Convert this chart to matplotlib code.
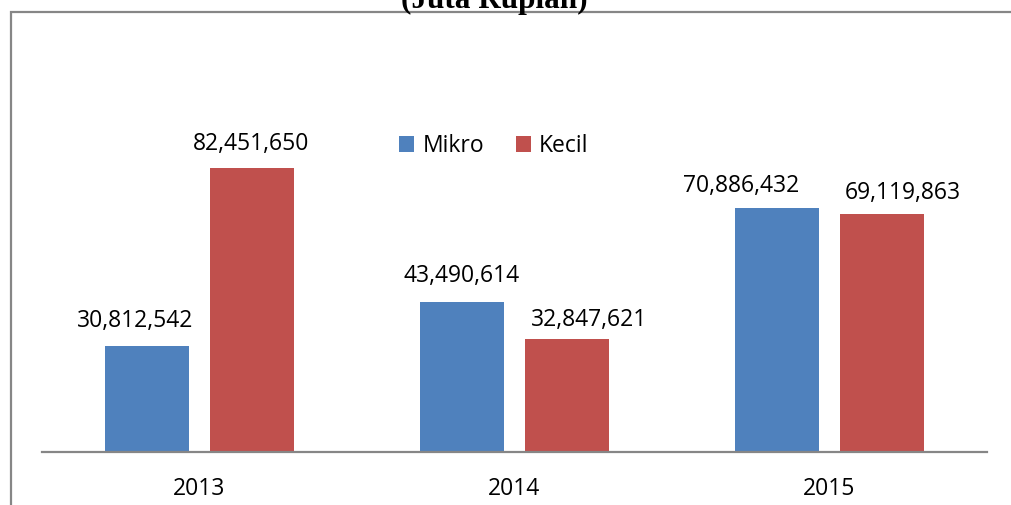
import numpy as np
import matplotlib
matplotlib.use("Agg")
import matplotlib.pyplot as plt
from matplotlib.patches import Rectangle

years = ["2013", "2014", "2015"]
mikro = [30812542, 43490614, 70886432]
kecil = [82451650, 32847621, 69119863]
series_names = ["Mikro", "Kecil"]

# label nudges in pixels (dx, gap above bar), like the original's placement
mikro_nudge = [(-12, 19), (0, 20), (-36, 16)]
kecil_nudge = [(-1, 18), (22, 13), (21, 15)]

blue = "#4F81BD"
red = "#C0504D"
gray = "#868686"

W, H = 1012, 505
fig = plt.figure(figsize=(W / 100, H / 100), dpi=100)
plt.rcParams['font.family'] = ['Open Sans', 'DejaVu Sans']

# outer frame (cut by the picture edges)
fig.patches.append(Rectangle((11 / W, -0.1), 1.2, 1 - 12 / H + 0.1,
                             transform=fig.transFigure, fill=False,
                             edgecolor=gray, linewidth=1.6))

fig.text(494 / W, 1 - 8 / H, "(Juta Rupiah)", ha="center", va="baseline",
         family="Liberation Serif", fontweight="bold", fontsize=22.5)

ax = fig.add_axes([42 / W, 1 - 452 / H, 945 / W, 310 / H])
x = np.arange(len(years))
w = 0.2667
b1 = ax.bar(x - 0.1667, mikro, w, color=blue, label=series_names[0])
b2 = ax.bar(x + 0.1667, kecil, w, color=red, label=series_names[1])

for bars, nudges in ((b1, mikro_nudge), (b2, kecil_nudge)):
    for rect, (dx, dy) in zip(bars, nudges):
        v = rect.get_height()
        ax.annotate(f"{v:,.0f}", (rect.get_x() + rect.get_width() / 2, v),
                    xytext=(dx, dy), textcoords="offset pixels",
                    ha="center", va="baseline", fontsize=16.5)

ax.set_xlim(-0.5, 2.5)
ax.set_ylim(0, 90000000)
ax.set_xticks(x)
ax.set_xticklabels(years, fontsize=16.5)
ax.tick_params(axis="x", length=0, pad=18)
ax.set_yticks([])
for s in ["top", "right", "left"]:
    ax.spines[s].set_visible(False)
ax.spines["bottom"].set_color(gray)
ax.spines["bottom"].set_linewidth(1.6)

ax.legend(loc="center", bbox_to_anchor=(494 / W, 1 - 146 / H),
          bbox_transform=fig.transFigure, ncol=2, frameon=False,
          fontsize=16.5, handlelength=0.65, handleheight=0.65,
          handletextpad=0.35, columnspacing=1.4)

fig.savefig("out.png", dpi=100)
